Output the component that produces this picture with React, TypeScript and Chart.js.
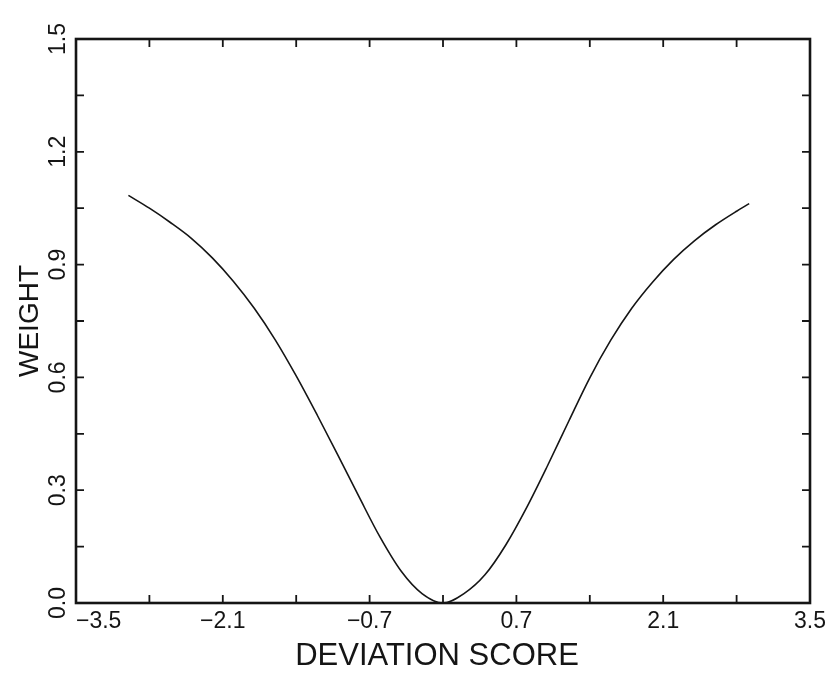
import React, { useEffect, useRef } from "react";
import { Chart, registerables } from "chart.js";

Chart.register(...registerables);

// Curve (deviation score -> weight)
const deviationScores = [
  -3.0, -2.8, -2.6, -2.4, -2.2, -2.0, -1.8, -1.6, -1.4, -1.2, -1.0, -0.8, -0.6, -0.4, -0.2, 0.0,
  0.2, 0.4, 0.6, 0.8, 1.0, 1.2, 1.4, 1.6, 1.8, 2.0, 2.2, 2.4, 2.6, 2.8, 2.92,
];
const weights = [
  1.084, 1.05, 1.012, 0.97, 0.918, 0.856, 0.784, 0.7, 0.604, 0.5, 0.392, 0.282, 0.175, 0.085, 0.025, 0.0,
  0.025, 0.075, 0.155, 0.255, 0.367, 0.484, 0.599, 0.699, 0.784, 0.854, 0.914, 0.964, 1.006, 1.042, 1.062,
];

const xTickValues = [-3.5, -2.8, -2.1, -1.4, -0.7, 0, 0.7, 1.4, 2.1, 2.8, 3.5];
const xLabelValues = [-3.5, -2.1, -0.7, 0.7, 2.1, 3.5];
const xLabelTexts = ["\u22123.5", "\u22122.1", "\u22120.7", "0.7", "2.1", "3.5"];
const yTickValues = [0, 0.15, 0.3, 0.45, 0.6, 0.75, 0.9, 1.05, 1.2, 1.35, 1.5];
const yLabelValues = [0, 0.3, 0.6, 0.9, 1.2, 1.5];
const yLabelTexts = ["0.0", "0.3", "0.6", "0.9", "1.2", "1.5"];

const xTitle = "DEVIATION SCORE";
const yTitle = "WEIGHT";

const INK = "#151515";
const FONT = "'Liberation Sans', Arial, sans-serif";

const framePlugin = {
  id: "frame",
  afterDraw(chart: any) {
    const { ctx, chartArea } = chart;
    const { left, right, top, bottom } = chartArea;
    const xs = chart.scales.x;
    const ys = chart.scales.y;
    ctx.save();
    ctx.strokeStyle = INK;
    ctx.fillStyle = INK;
    // frame
    ctx.lineWidth = 2.6;
    ctx.strokeRect(left, top, right - left, bottom - top);
    // inward ticks
    const tl = 8;
    ctx.lineWidth = 1.8;
    ctx.beginPath();
    xTickValues.forEach((v) => {
      const px = xs.getPixelForValue(v);
      ctx.moveTo(px, bottom);
      ctx.lineTo(px, bottom - tl);
      ctx.moveTo(px, top);
      ctx.lineTo(px, top + tl);
    });
    yTickValues.forEach((v) => {
      const py = ys.getPixelForValue(v);
      ctx.moveTo(left, py);
      ctx.lineTo(left + tl, py);
      ctx.moveTo(right, py);
      ctx.lineTo(right - tl, py);
    });
    ctx.stroke();
    // x tick labels
    ctx.font = `23px ${FONT}`;
    ctx.textBaseline = "middle";
    xLabelValues.forEach((v, i) => {
      const px = xs.getPixelForValue(v);
      ctx.textAlign = i === 0 ? "left" : "center";
      ctx.fillText(xLabelTexts[i], i === 0 ? px : px, bottom + 19);
    });
    // y tick labels (rotated)
    yLabelValues.forEach((v, i) => {
      const py = ys.getPixelForValue(v);
      ctx.save();
      ctx.translate(left - 17, py);
      ctx.rotate(-Math.PI / 2);
      ctx.textAlign = "center";
      ctx.textBaseline = "middle";
      ctx.fillText(yLabelTexts[i], 0, 0);
      ctx.restore();
    });
    // axis titles
    ctx.font = `31px ${FONT}`;
    ctx.textAlign = "center";
    ctx.textBaseline = "middle";
    ctx.fillText(xTitle, (left + right) / 2 - 6, bottom + 53);
    ctx.save();
    ctx.font = `28px ${FONT}`;
    ctx.translate(left - 46, ys.getPixelForValue(0.75));
    ctx.rotate(-Math.PI / 2);
    ctx.fillText(yTitle, 0, 0);
    ctx.restore();
    ctx.restore();
  },
};

export default function App() {
  const canvasRef = useRef<HTMLCanvasElement | null>(null);

  useEffect(() => {
    if (!canvasRef.current) return;
    const chart = new Chart(canvasRef.current, {
      type: "scatter",
      data: {
        datasets: [
          {
            data: deviationScores.map((x, i) => ({ x, y: weights[i] })),
            showLine: true,
            borderColor: INK,
            borderWidth: 1.6,
            pointRadius: 0,
            tension: 0.4,
            cubicInterpolationMode: "monotone",
            fill: false,
          } as any,
        ],
      },
      options: {
        animation: false,
        responsive: true,
        maintainAspectRatio: false,
        layout: { padding: { left: 76, right: 15, top: 39, bottom: 71 } },
        plugins: { legend: { display: false }, tooltip: { enabled: false } },
        scales: {
          x: { type: "linear", min: -3.5, max: 3.5, display: false },
          y: { type: "linear", min: 0, max: 1.5, display: false },
        },
      },
      plugins: [framePlugin],
    });
    return () => chart.destroy();
  }, []);

  return (
    <div
      style={{
        position: "fixed",
        left: 0,
        top: 0,
        width: 825,
        height: 674,
        background: "#fff",
      }}
    >
      <canvas ref={canvasRef} />
    </div>
  );
}
